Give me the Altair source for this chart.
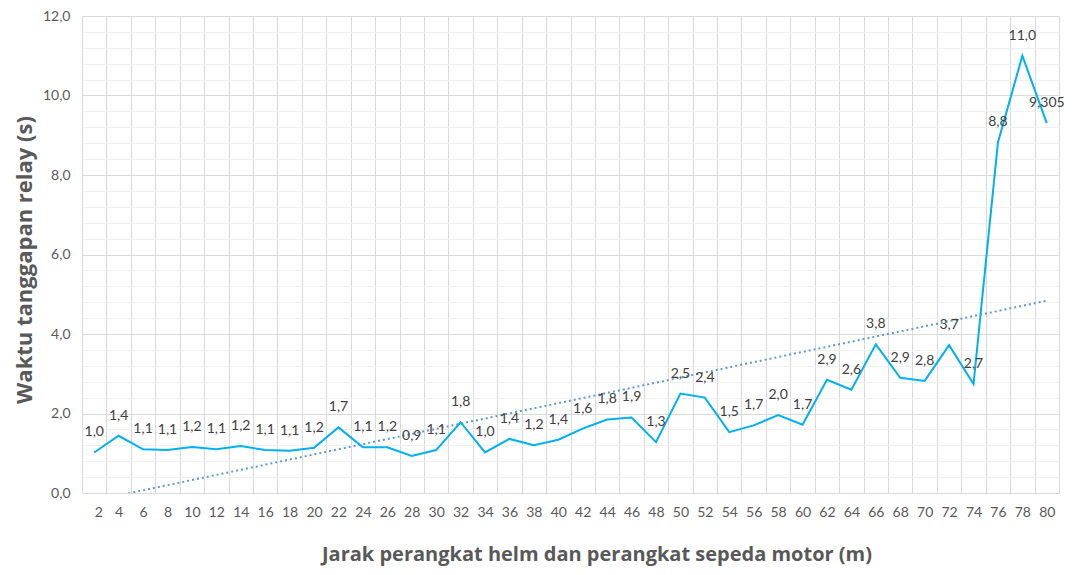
import altair as alt
import pandas as pd

# Distance categories (m)
distance = list(range(2, 81, 2))
# Relay response time (s)
response = [1.02, 1.44, 1.10, 1.08, 1.16, 1.10, 1.18, 1.08, 1.06, 1.14,
            1.65, 1.15, 1.15, 0.93, 1.08, 1.78, 1.02, 1.36, 1.20, 1.34,
            1.62, 1.85, 1.90, 1.28, 2.50, 2.40, 1.53, 1.70, 1.96, 1.72,
            2.85, 2.60, 3.74, 2.90, 2.82, 3.72, 2.74, 8.82, 11.00, 9.305]
# Data labels as shown
point_labels = ["1,0", "1,4", "1,1", "1,1", "1,2", "1,1", "1,2", "1,1", "1,1", "1,2",
                "1,7", "1,1", "1,2", "0,9", "1,1", "1,8", "1,0", "1,4", "1,2", "1,4",
                "1,6", "1,8", "1,9", "1,3", "2,5", "2,4", "1,5", "1,7", "2,0", "1,7",
                "2,9", "2,6", "3,8", "2,9", "2,8", "3,7", "2,7", "8,8", "11,0", "9,305"]
y_tick_values = [0, 0.4, 0.8, 1.2, 1.6, 2, 2.4, 2.8, 3.2, 3.6, 4, 4.4, 4.8, 5.2, 5.6, 6,
                 6.4, 6.8, 7.2, 7.6, 8, 8.4, 8.8, 9.2, 9.6, 10, 10.4, 10.8, 11.2, 11.6, 12]

df = pd.DataFrame({
    "idx": list(range(1, len(distance) + 1)),
    "jarak": distance,
    "waktu": response,
    "label": point_labels,
})

n = len(distance)
W, H = 977, 477
FONT = "Lato"
TFONT = "Open Sans"

x_boundaries = [i + 0.5 for i in range(0, n + 1)]

x_enc = alt.X(
    "idx:Q",
    scale=alt.Scale(domain=[0.5, n + 0.5], nice=False, zero=False),
    axis=alt.Axis(
        values=x_boundaries,
        labelExpr=f"datum.value < {n} ? '' + (datum.value + 0.5) * 2 : ''",
        labelOffset=W / n / 2,
        labelPadding=12,
        labelFontSize=14,
        labelColor="#595959",
        labelFont=FONT,
        ticks=False,
        domain=True,
        domainColor="#d9d9d9",
        grid=True,
        gridColor="#d9d9d9",
        title="Jarak perangkat helm dan perangkat sepeda motor (m)",
        titleFont=TFONT,
        titleFontSize=20,
        titleFontWeight="bold",
        titleColor="#595959",
        titlePadding=25,
        titleX=W / 2 + 26,
    ),
)

y_enc = alt.Y(
    "waktu:Q",
    scale=alt.Scale(domain=[0, 12], nice=False),
    axis=alt.Axis(
        values=y_tick_values,
        labelExpr="abs(datum.value / 2 - round(datum.value / 2)) < 0.001 ? replace(format(datum.value, '.1f'), '.', ',') : ''",
        labelPadding=12,
        labelFontSize=14,
        labelColor="#595959",
        labelFont=FONT,
        ticks=False,
        domain=False,
        grid=True,
        gridColor={"condition": {"test": "abs(datum.value / 2 - round(datum.value / 2)) < 0.001",
                                 "value": "#d9d9d9"},
                   "value": "#f0f0f0"},
        title="Waktu tanggapan relay (s)",
        titleFont=TFONT,
        titleFontSize=22,
        titleFontWeight="bold",
        titleColor="#595959",
        titlePadding=6,
        titleY=H / 2 + 5,
    ),
)

base = alt.Chart(df).encode(x=x_enc, y=y_enc)

line = base.mark_line(color="#00B0F0", strokeWidth=2)

text = base.mark_text(dy=-20, fontSize=14, color="#404040", font=FONT).encode(text="label:N")

trend = base.transform_regression("idx", "waktu", extent=[1, n]).mark_line(
    color="#5B9BD5", strokeWidth=2, strokeDash=[2, 3], clip=True
)

chart = alt.layer(trend, line, text).properties(
    width=W,
    height=H,
    autosize=alt.AutoSizeParams(type="none"),
    padding={"left": 74, "top": 8, "right": 5, "bottom": 74},
).configure_view(stroke=None)

chart.save("out.html", embed_options={"renderer": "svg", "actions": False})
